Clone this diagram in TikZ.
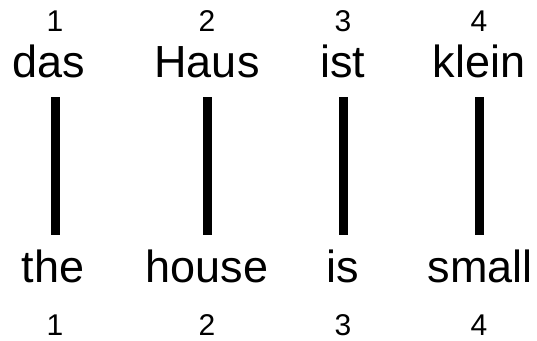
\documentclass[tikz,border=0pt]{standalone}
\usepackage{fontspec}
\setmainfont{Liberation Sans}
\tikzset{
  word/.style={inner sep=0pt, anchor=base, font=\fontsize{45}{45}\selectfont},
  posnum/.style={inner sep=0pt, anchor=base, font=\fontsize{30}{30}\selectfont},
  link/.style={line width=9pt}
}
\begin{document}
\begin{tikzpicture}[x=1pt, y=-1pt]
        \useasboundingbox (0, 0) rectangle (537, 340);

        % Draw the German sentence with its positions
        \node[posnum] (dn1) at (55, 31) {1};
        \node[posnum] (dn2) at (207, 31) {2};
        \node[posnum] (dn3) at (343, 31) {3};
        \node[posnum] (dn4) at (479, 31) {4};
        \node[word] (d1) at (49, 77) {das};
        \node[word] (d2) at (207, 77) {Haus};
        \node[word] (d3) at (343, 77) {ist};
        \node[word] (d4) at (479, 77) {klein};

        % Draw the English sentence with its positions
        \node[word] (e1) at (53, 282) {the};
        \node[word] (e2) at (207, 282) {house};
        \node[word] (e3) at (343, 282) {is};
        \node[word] (e4) at (480, 282) {small};
        \node[posnum] (en1) at (55, 335) {1};
        \node[posnum] (en2) at (207, 335) {2};
        \node[posnum] (en3) at (343, 335) {3};
        \node[posnum] (en4) at (479, 335) {4};

        % Draw the alignment links
        \draw[link] ([xshift=6pt, yshift=-20pt]d1.base) -- ([xshift=2pt, yshift=47pt]e1.base);
        \draw[link] ([yshift=-20pt]d2.base) -- ([yshift=47pt]e2.base);
        \draw[link] ([yshift=-20pt]d3.base) -- ([yshift=47pt]e3.base);
        \draw[link] ([yshift=-20pt]d4.base) -- ([xshift=-1pt, yshift=47pt]e4.base);
\end{tikzpicture}
\end{document}
